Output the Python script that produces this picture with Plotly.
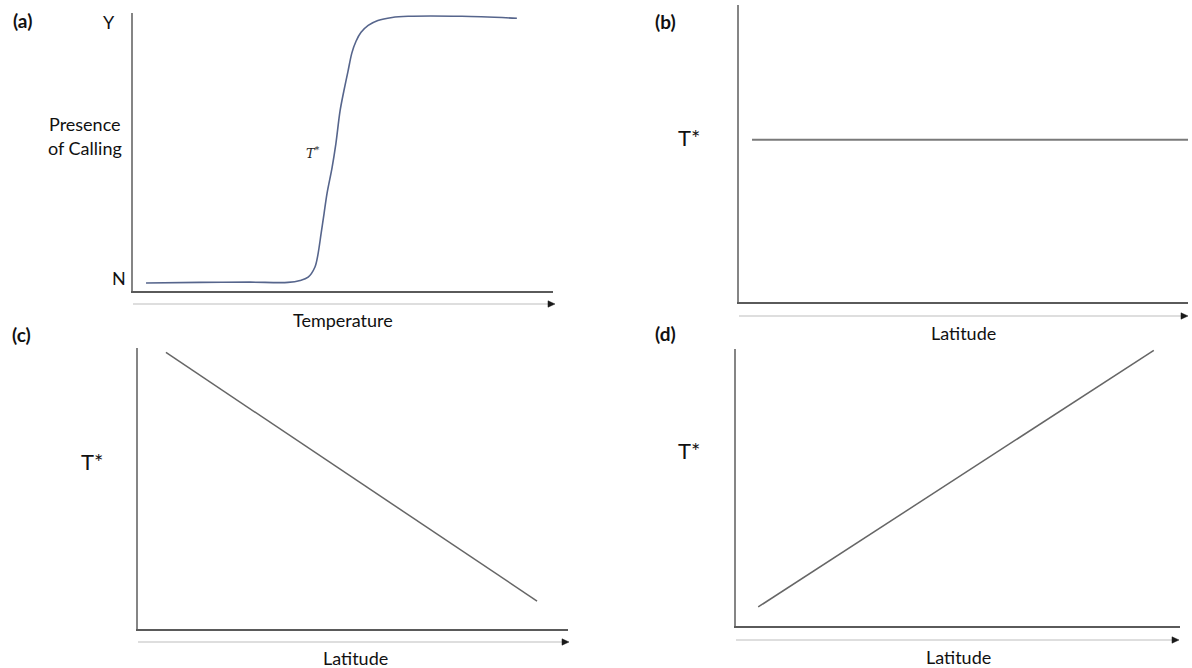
import plotly.graph_objects as go

W, H = 1192, 668

# ---- data ----
# (a) presence of calling vs temperature (arbitrary units: T 0-100, presence 0-1)
temp_a = [3.1, 16.0, 27.9, 36.9, 39.8, 41.7, 43.3, 44.0, 44.8, 45.5, 46.2, 47.4,
          48.3, 49.3, 50.2, 51.2, 52.1, 53.1, 54.3, 56.0, 58.3, 61.7, 65.5, 78.3, 91.4]
call_a = [0.029, 0.031, 0.032, 0.031, 0.038, 0.050, 0.086, 0.129, 0.209, 0.281,
          0.353, 0.446, 0.532, 0.651, 0.723, 0.795, 0.860, 0.903, 0.935, 0.960,
          0.978, 0.989, 0.993, 0.993, 0.986]
# (b) constant T* across latitude
lat_b = [2.9, 100.0]
tstar_b = [0.549, 0.549]
# (c) T* decreasing with latitude
lat_c = [6.5, 92.8]
tstar_c = [0.989, 0.100]
# (d) T* increasing with latitude
lat_d = [5.0, 94.1]
tstar_d = [0.069, 1.0]

FONT = "Lato"

def px(x):
    return x / W

def py(y):
    return 1 - y / H

# panel geometry in pixels: (left, right, bottom, top)
panels = {
    "a": (133, 553, 291, 13),
    "b": (739, 1188, 302, 5),
    "c": (138, 568, 629, 348),
    "d": (736, 1180, 626, 349),
}

fig = go.Figure()

fig.add_trace(go.Scatter(x=temp_a, y=call_a, mode="lines",
                         line=dict(color="#56658c", width=1.6, shape="spline", smoothing=0.9),
                         xaxis="x", yaxis="y", hoverinfo="skip"))
fig.add_trace(go.Scatter(x=lat_b, y=tstar_b, mode="lines", line=dict(color="#7a7a7a", width=2),
                         xaxis="x2", yaxis="y2", hoverinfo="skip"))
fig.add_trace(go.Scatter(x=lat_c, y=tstar_c, mode="lines", line=dict(color="#666666", width=1.5),
                         xaxis="x3", yaxis="y3", hoverinfo="skip"))
fig.add_trace(go.Scatter(x=lat_d, y=tstar_d, mode="lines", line=dict(color="#666666", width=1.5),
                         xaxis="x4", yaxis="y4", hoverinfo="skip"))

layout = dict(width=W, height=H, margin=dict(l=0, r=0, t=0, b=0), showlegend=False,
              plot_bgcolor="white", paper_bgcolor="white")

for i, key in enumerate(["a", "b", "c", "d"]):
    l, r, b, t = panels[key]
    sfx = "" if i == 0 else str(i + 1)
    layout["xaxis" + sfx] = dict(domain=[px(l), px(r)], range=[0, 100], showgrid=False, zeroline=False,
                                 showticklabels=False, ticks="", showline=True, linecolor="#5a5a5a",
                                 linewidth=2, anchor="y" + sfx, fixedrange=True)
    layout["yaxis" + sfx] = dict(domain=[py(b), py(t)], range=[0, 1.005], showgrid=False, zeroline=False,
                                 showticklabels=False, ticks="", showline=True, linecolor="#858585",
                                 linewidth=2, anchor="x" + sfx, fixedrange=True)

fig.update_layout(**layout)

# arrows under the x axes (pixel coords: y, x0, x1)
arrows = [(304, 133, 555), (316, 739, 1188), (642, 138, 569), (640, 736, 1179)]
shapes = []
anns = []
for (ay_, x0, x1) in arrows:
    shapes.append(dict(type="line", xref="paper", yref="paper", x0=px(x0), x1=px(x1 - 5),
                       y0=py(ay_), y1=py(ay_), line=dict(color="#bdbdbd", width=1)))
    path = "M {:.5f} {:.5f} L {:.5f} {:.5f} L {:.5f} {:.5f} Z".format(
        px(x1), py(ay_), px(x1 - 7), py(ay_ - 3.2), px(x1 - 7), py(ay_ + 3.2))
    shapes.append(dict(type="path", xref="paper", yref="paper", path=path,
                       fillcolor="#1a1a1a", line=dict(color="#1a1a1a", width=0.5)))

def label(text, x, y, size=18, family=FONT, color="#111111"):
    anns.append(dict(xref="paper", yref="paper", x=px(x), y=py(y), text=text, showarrow=False,
                     xanchor="center", yanchor="middle", font=dict(family=family, size=size, color=color)))

# panel letters
label("<b>(a)</b>", 22, 20, size=19)
label("<b>(b)</b>", 665, 21, size=19)
label("<b>(c)</b>", 21, 334, size=19)
label("<b>(d)</b>", 665, 333, size=19)

# panel (a) texts
label("Y", 109, 22)
label("N", 119, 278)
label("Presence", 85, 124)
label("of Calling", 85, 148)
label("Temperature", 343, 320)
label("<i>T</i><sup>*</sup>", 313, 153, size=13, family="DejaVu Serif", color="#222222")

# T* labels
label("T*", 689, 137, size=22)
label("T*", 92, 462, size=22)
label("T*", 689, 450, size=22)

# Latitude labels
label("Latitude", 963, 333)
label("Latitude", 355, 658)
label("Latitude", 958, 657)

fig.update_layout(shapes=shapes, annotations=anns)

fig.write_html("out.html", config={"displayModeBar": False})
